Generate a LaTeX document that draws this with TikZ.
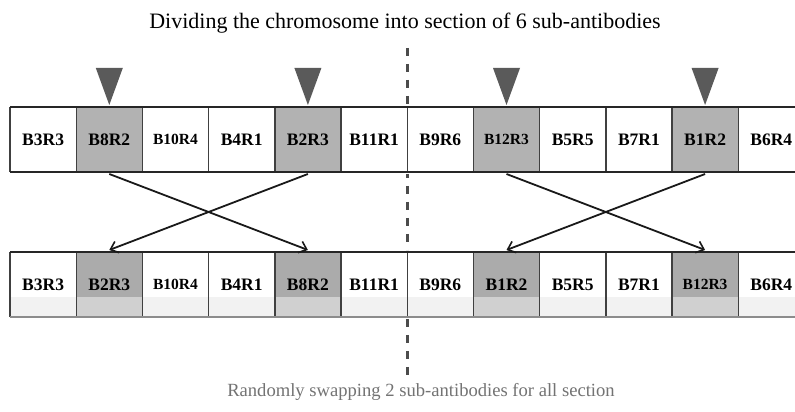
\documentclass[tikz,border=0pt]{standalone}
\usepackage{fontspec}
\setmainfont{Liberation Serif}
\usetikzlibrary{arrows.meta}
\definecolor{cellgray}{HTML}{B2B2B2}
\definecolor{cellgraydark}{HTML}{ABABAB}
\definecolor{cellgraylight}{HTML}{D0D0D0}
\definecolor{whitelow}{HTML}{F2F2F2}
\definecolor{marker}{HTML}{5A5A5A}
\tikzset{
  x=1pt, y=1pt,
  rowline/.style={line width=2.4pt, draw=black!85},
  sepline/.style={line width=1.4pt, draw=black!75},
  lbl/.style={font=\bfseries\fontsize{17.5}{17.5}\selectfont, inner sep=0pt},
  lblsmall/.style={font=\bfseries\fontsize{15.5}{15.5}\selectfont, inner sep=0pt},
  swaparrow/.style={line width=1.8pt, draw=black!90, -{Straight Barb[length=7pt,width=12pt,line width=1.6pt]}},
  divider/.style={line width=2.6pt, draw=black!70, dash pattern=on 8pt off 8pt},
  pointer/.style={fill=marker, draw=none},
}
\begin{document}
\begin{tikzpicture}
\useasboundingbox (0,0) rectangle (795,412);
\clip (0,0) rectangle (795,412);
\fill[white] (0,0) rectangle (795,412);

% cell geometry
\def\cw{66.2}
\def\xo{10}

% ---- top row (before swapping) ----
\foreach \i in {1,4,7,10}{
  \fill[cellgray] ({\xo+\i*\cw},240) rectangle ({\xo+(\i+1)*\cw},305);
}
% ---- bottom row (after swapping) ----
\foreach \i in {0,...,11}{
  \fill[whitelow] ({\xo+\i*\cw},95) rectangle ({\xo+(\i+1)*\cw},115);
}
\foreach \i in {1,4,7,10}{
  \fill[cellgraydark] ({\xo+\i*\cw},115) rectangle ({\xo+(\i+1)*\cw},160);
  \fill[cellgraylight] ({\xo+\i*\cw},95) rectangle ({\xo+(\i+1)*\cw},115);
}

% vertical separators
\foreach \i in {0,...,12}{
  \draw[sepline] ({\xo+\i*\cw},240) -- ({\xo+\i*\cw},305);
  \draw[sepline] ({\xo+\i*\cw},95) -- ({\xo+\i*\cw},160);
}
% horizontal row borders
\draw[rowline] (\xo,305) -- (800,305);
\draw[rowline] (\xo,240) -- (800,240);
\draw[rowline] (\xo,160) -- (800,160);
\draw[rowline, draw=black!45] (\xo,95) -- (800,95);

% label positions
\foreach \n in {0,...,11}{
  \coordinate (t\n) at ({\xo+(\n+0.5)*\cw},272.5);
  \coordinate (b\n) at ({\xo+(\n+0.5)*\cw},127.5);
}

% labels of the top row
\node[lbl] (ta) at (t0) {B3R3};
\node[lbl] (tb) at (t1) {B8R2};
\node[lblsmall] (tc) at (t2) {B10R4};
\node[lbl] (td) at (t3) {B4R1};
\node[lbl] (te) at (t4) {B2R3};
\node[lbl] (tf) at (t5) {B11R1};
\node[lbl] (tg) at (t6) {B9R6};
\node[lblsmall] (th) at (t7) {B12R3};
\node[lbl] (ti) at (t8) {B5R5};
\node[lbl] (tj) at (t9) {B7R1};
\node[lbl] (tk) at (t10) {B1R2};
\node[lbl] (tl) at (t11) {B6R4};

% labels of the bottom row
\node[lbl] (ba) at (b0) {B3R3};
\node[lbl] (bb) at (b1) {B2R3};
\node[lblsmall] (bc) at (b2) {B10R4};
\node[lbl] (bd) at (b3) {B4R1};
\node[lbl] (be) at (b4) {B8R2};
\node[lbl] (bf) at (b5) {B11R1};
\node[lbl] (bg) at (b6) {B9R6};
\node[lbl] (bh) at (b7) {B1R2};
\node[lbl] (bi) at (b8) {B5R5};
\node[lbl] (bj) at (b9) {B7R1};
\node[lblsmall] (bk) at (b10) {B12R3};
\node[lbl] (bl) at (b11) {B6R4};

% anchor points for the swap arrows
\foreach \n in {1,4,7,10}{
  \coordinate (s\n) at ({\xo+(\n+0.5)*\cw},238);
  \coordinate (e\n) at ({\xo+(\n+0.5)*\cw},162);
}
\draw[swaparrow] (s1) -- (e4);
\draw[swaparrow] (s4) -- (e1);
\draw[swaparrow] (s7) -- (e10);
\draw[swaparrow] (s10) -- (e7);

% pointers marking the chosen sub-antibodies
\foreach \n in {1,4,7,10}{
  \coordinate (p\n) at ({\xo+(\n+0.5)*\cw},307);
  \fill[pointer] (p\n) -- ++(-13.5,37) -- ++(27,0) -- cycle;
}

% section divider
\coordinate (d0) at ({\xo+6*\cw},364);
\coordinate (d1) at ({\xo+6*\cw},307);
\coordinate (d2) at ({\xo+6*\cw},238);
\coordinate (d3) at ({\xo+6*\cw},162);
\coordinate (d4) at ({\xo+6*\cw},93);
\coordinate (d5) at ({\xo+6*\cw},36);
\draw[divider] (d0) -- (d1);
\draw[divider, dash phase=4pt] (d2) -- (d3);
\draw[divider] (d4) -- (d5);

% captions
\node[font=\fontsize{22}{22}\selectfont, inner sep=0pt] (title) at (405,389) {Dividing the chromosome into section of 6 sub-antibodies};
\node[font=\fontsize{18.6}{18.6}\selectfont, inner sep=0pt, text=black!55] (caption) at (421,20) {Randomly swapping 2 sub-antibodies for all section};
\end{tikzpicture}
\end{document}
